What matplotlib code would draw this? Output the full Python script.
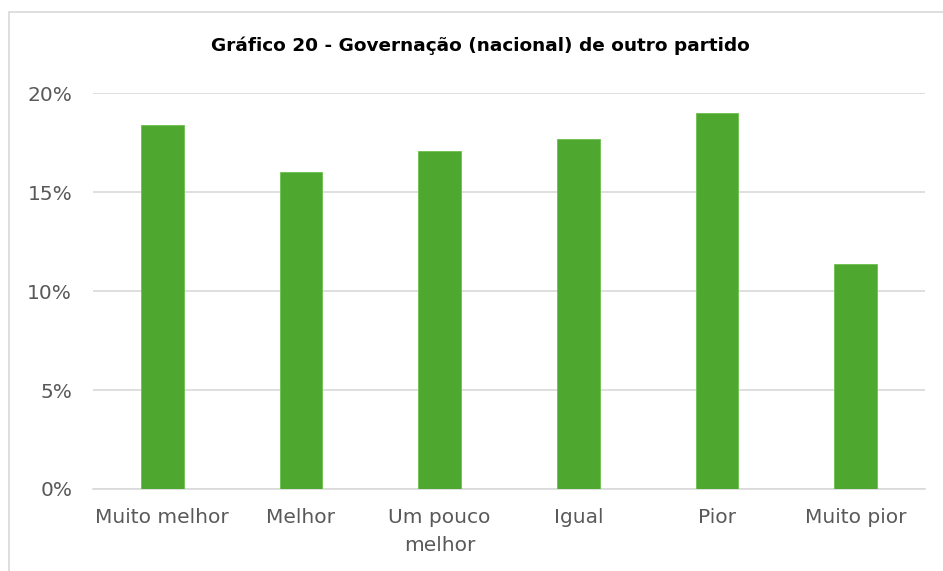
import matplotlib.pyplot as plt
from matplotlib.patches import Rectangle
from matplotlib.ticker import FuncFormatter

categories = ['Muito melhor', 'Melhor', 'Um pouco\nmelhor', 'Igual', 'Pior', 'Muito pior']
values = [18.4, 16.0, 17.07, 17.68, 18.99, 11.37]
yticks = [0, 5, 10, 15, 20]
title = 'Gráfico 20 - Governação (nacional) de outro partido'

plt.rcParams['font.family'] = ['DejaVu Sans']

fig = plt.figure(figsize=(9.43, 5.71), dpi=100)
ax = fig.add_axes([93 / 943, 1 - 489 / 571, 832 / 943, (489 - 93.3) / 571])

# outer chart border
fig.patches.append(Rectangle((9 / 943, -0.1), 1.2, 1 - 12 / 571 + 0.1,
                             transform=fig.transFigure, fill=False,
                             edgecolor='#d9d9d9', linewidth=1.2))

x = range(len(categories))
ax.bar(x, values, width=0.31, color='#4ea72e', edgecolor='#6cbf4c', linewidth=0.6, zorder=3)

ax.set_ylim(0, 20)
ax.set_xlim(-0.5, len(categories) - 0.5)
ax.set_yticks(yticks)
ax.yaxis.set_major_formatter(FuncFormatter(lambda v, p: f'{v:.0f}%'))
ax.set_xticks(list(x))
ax.set_xticklabels(categories)
ax.grid(axis='y', color='#d9d9d9', linewidth=1.2, zorder=0)
for s in ['top', 'right', 'left']:
    ax.spines[s].set_visible(False)
ax.spines['bottom'].set_color('#d9d9d9')
ax.spines['bottom'].set_linewidth(1.2)
ax.tick_params(length=0, labelsize=14.5, labelcolor='#595959')
ax.tick_params(axis='y', pad=15)
ax.tick_params(axis='x', pad=14)
for lbl in ax.get_xticklabels():
    lbl.set_linespacing(1.6)

fig.text(480 / 943, 1 - 46 / 571, title, ha='center', va='center',
         fontsize=13.3, fontweight='bold', color='#000000')

fig.savefig('out.png', dpi=100, facecolor='white')
